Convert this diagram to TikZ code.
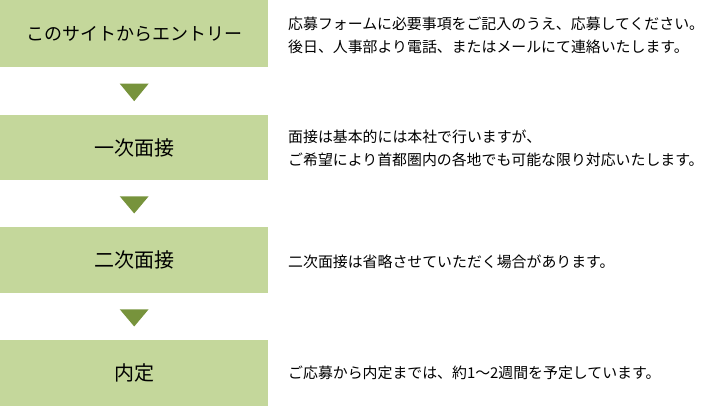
\documentclass[tikz,border=0pt]{standalone}
\usepackage{fontspec}
\setmainfont{Noto Sans CJK JP}
\usetikzlibrary{calc}
\definecolor{boxgreen}{HTML}{C4D79B}
\definecolor{arrowgreen}{HTML}{77933C}
\tikzset{
  stepbox/.style={rectangle, fill=boxgreen, minimum width=268bp, minimum height=65bp, inner sep=0pt, anchor=north west, font=\fontsize{20bp}{24bp}\selectfont},
  desc/.style={anchor=west, inner sep=0pt, align=left, font=\fontsize{14.9bp}{23bp}\selectfont},
  downarrow/.style={fill=arrowgreen}
}
\begin{document}
\begin{tikzpicture}[x=1bp,y=-1bp]
\useasboundingbox (0,0) rectangle (725,406);
\node[stepbox, minimum height=67bp, font=\fontsize{18bp}{22bp}\selectfont] (b1) at (0,0) {このサイトからエントリー};
\node[stepbox] (b2) at (0,115) {一次面接};
\node[stepbox, minimum height=66bp] (b3) at (0,227) {二次面接};
\node[stepbox, minimum height=66bp] (b4) at (0,340) {内定};
\foreach \a/\b in {b1/b2,b2/b3,b3/b4}{
  \fill[downarrow] ($(\a.south)!0.34!(\b.north)+(-14.5,0)$) -- ($(\a.south)!0.34!(\b.north)+(14.5,0)$) -- ($(\a.south)!0.71!(\b.north)$) -- cycle;
}
\node[desc] (d1) at (288,35.5) {応募フォームに必要事項をご記入のうえ、応募してください。\\後日、人事部より電話、またはメールにて連絡いたします。};
\node[desc] (d2) at (288,148.5) {面接は基本的には本社で行いますが、\\ご希望により首都圏内の各地でも可能な限り対応いたします。};
\node[desc] (d3) at (288,262) {二次面接は省略させていただく場合があります。};
\node[desc] (d4) at (288,373) {ご応募から内定までは、約1～2週間を予定しています。};
\end{tikzpicture}
\end{document}
